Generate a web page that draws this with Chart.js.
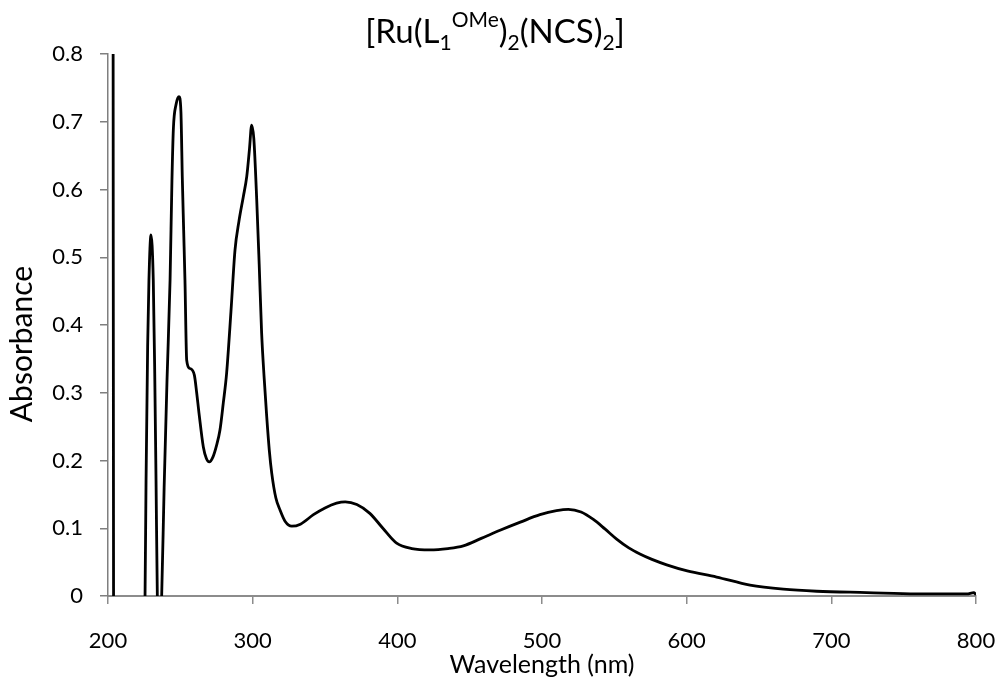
<!DOCTYPE html>
<html lang="en">
<head>
    <meta charset="UTF-8">
    <title>[Ru(L1OMe)2(NCS)2] UV-Vis</title>
    <script src="https://cdn.jsdelivr.net/npm/chart.js"></script>
    <style>
        body { margin: 0; background: #fff; }
    </style>
</head>
<body>
    <canvas id="grafico" width="1000" height="686"></canvas>

    <script>
        // Espectro UV-Vis (nm, absorbância)
        const wavelength = [203.5, 203.9, 210, 218, 224.5, 225.6, 226.3, 227.4, 228.3, 229.7,
            231.3, 232.3, 233.2, 234.1, 235.6, 237.1, 238.8, 240.8, 242.9, 244.2,
            245.2, 247, 249.1, 250.4, 251.4, 252.3, 253.2, 254.4, 256.5, 259.7,
            261.3, 262.9, 265.9, 268, 270, 272.5, 275, 277.4, 279.7, 282,
            285, 287.8, 290.5, 293.5, 295.9, 297.8, 299.3, 300.8, 302.8, 304.5,
            306.2, 308, 309.7, 311.5, 313.2, 316, 318.9, 322.5, 327, 333,
            342, 350, 358, 364, 372, 381, 390, 399.5, 410, 422.6,
            435, 445.6, 458, 471, 485, 498.6, 510, 518.2, 527, 535.5,
            543.5, 551.6, 560, 567.7, 576, 586.2, 600.4, 620.7, 643.8, 666.8,
            689.9, 724.4, 759, 793.6, 798.5, 800];
        const absorbance = [0.95, -0.15, -0.3, -0.3, -0.1, 0.0, 0.17, 0.368, 0.466, 0.533,
            0.466, 0.33, 0.171, 0.0, -0.06, 0.0, 0.16, 0.319, 0.466, 0.613,
            0.69, 0.725, 0.737, 0.715, 0.614, 0.54, 0.466, 0.348, 0.336, 0.326,
            0.3, 0.27, 0.22, 0.203, 0.198, 0.205, 0.222, 0.245, 0.285, 0.329,
            0.42, 0.511, 0.553, 0.589, 0.619, 0.66, 0.695, 0.675, 0.585, 0.49,
            0.388, 0.32, 0.265, 0.215, 0.181, 0.145, 0.127, 0.11, 0.103, 0.106,
            0.12, 0.13, 0.137, 0.139, 0.135, 0.122, 0.1, 0.078, 0.07, 0.068,
            0.07, 0.074, 0.085, 0.097, 0.109, 0.12, 0.126, 0.128, 0.124, 0.113,
            0.099, 0.084, 0.071, 0.062, 0.054, 0.046, 0.037, 0.028, 0.016, 0.01,
            0.007, 0.005, 0.003, 0.003, 0.005, 0.002];

        const xTicks = [200, 300, 400, 500, 600, 700, 800];
        const yTicks = [0, 0.1, 0.2, 0.3, 0.4, 0.5, 0.6, 0.7, 0.8];

        const fonte = 'Lato, "Open Sans", sans-serif';

        // Título com subscrito/sobrescrito: [Ru(L1^OMe)2(NCS)2]
        const tituloPartes = [
            { t: '[Ru(L', tipo: 'n' },
            { t: '1', tipo: 'sub' },
            { t: 'OMe', tipo: 'sup' },
            { t: ')', tipo: 'n' },
            { t: '2', tipo: 'sub' },
            { t: '(NCS)', tipo: 'n' },
            { t: '2', tipo: 'sub' },
            { t: ']', tipo: 'n' }
        ];

        const tituloPlugin = {
            id: 'tituloQuimico',
            afterDraw(chart) {
                const ctx = chart.ctx;
                const base = 33, menor = 21, baseline = 43;
                ctx.save();
                ctx.fillStyle = '#000';
                ctx.textBaseline = 'alphabetic';
                ctx.textAlign = 'left';
                // largura total, para centralizar
                let total = 0;
                tituloPartes.forEach(p => {
                    ctx.font = (p.tipo === 'n' ? base : menor) + 'px ' + fonte;
                    p.w = ctx.measureText(p.t).width;
                    total += p.w;
                });
                let x = 495 - total / 2;
                tituloPartes.forEach(p => {
                    ctx.font = (p.tipo === 'n' ? base : menor) + 'px ' + fonte;
                    let y = baseline;
                    if (p.tipo === 'sub') y = baseline + 7;
                    if (p.tipo === 'sup') y = baseline - 16;
                    ctx.fillText(p.t, x, y);
                    x += p.w;
                });

                // rótulo do eixo Y, um pouco abaixo do centro do eixo
                ctx.translate(22, 344);
                ctx.rotate(-Math.PI / 2);
                ctx.font = '30px ' + fonte;
                ctx.textAlign = 'center';
                ctx.textBaseline = 'middle';
                ctx.fillText('Absorbance', 0, 0);
                ctx.restore();
            }
        };

        const ctx = document.getElementById('grafico').getContext('2d');
        new Chart(ctx, {
            type: 'line',
            data: {
                datasets: [{
                    data: wavelength.map((w, i) => ({ x: w, y: absorbance[i] })),
                    borderColor: '#000',
                    borderWidth: 2.8,
                    pointRadius: 0,
                    fill: false,
                    cubicInterpolationMode: 'monotone'
                }]
            },
            options: {
                responsive: false,
                animation: false,
                layout: { padding: { top: 54, right: 24, left: 0, bottom: 0 } },
                plugins: {
                    legend: { display: false },
                    tooltip: { enabled: false }
                },
                scales: {
                    x: {
                        type: 'linear',
                        min: 200,
                        max: 800,
                        afterBuildTicks: s => { s.ticks = xTicks.map(v => ({ value: v })); },
                        afterFit: s => {
                            s.height = 90;
                            s.paddingLeft = 0;
                            s.paddingRight = 0;
                        },
                        grid: { drawOnChartArea: false, drawTicks: true, tickLength: 8, color: '#8c8c8c', lineWidth: 1.5 },
                        border: { display: true, color: '#8c8c8c', width: 2 },
                        ticks: {
                            padding: 24,
                            color: '#000',
                            maxRotation: 0,
                            font: { family: fonte, size: 22 }
                        },
                        title: {
                            display: true,
                            text: 'Wavelength (nm)',
                            color: '#000',
                            font: { family: fonte, size: 25 },
                            padding: { top: 0, bottom: 6 }
                        }
                    },
                    y: {
                        min: 0,
                        max: 0.8,
                        afterBuildTicks: s => { s.ticks = yTicks.map(v => ({ value: v })); },
                        afterFit: s => {
                            s.width = 108;
                            s.paddingTop = 0;
                            s.paddingBottom = 0;
                        },
                        grid: { drawOnChartArea: false, drawTicks: true, tickLength: 8, color: '#7f7f7f', lineWidth: 1.5 },
                        border: { display: true, color: '#7f7f7f', width: 1.5 },
                        ticks: {
                            padding: 17,
                            color: '#000',
                            font: { family: fonte, size: 22 },
                            callback: v => v === 0 ? '0' : v.toFixed(1)
                        }
                    }
                }
            },
            plugins: [tituloPlugin]
        });
    </script>
</body>
</html>
